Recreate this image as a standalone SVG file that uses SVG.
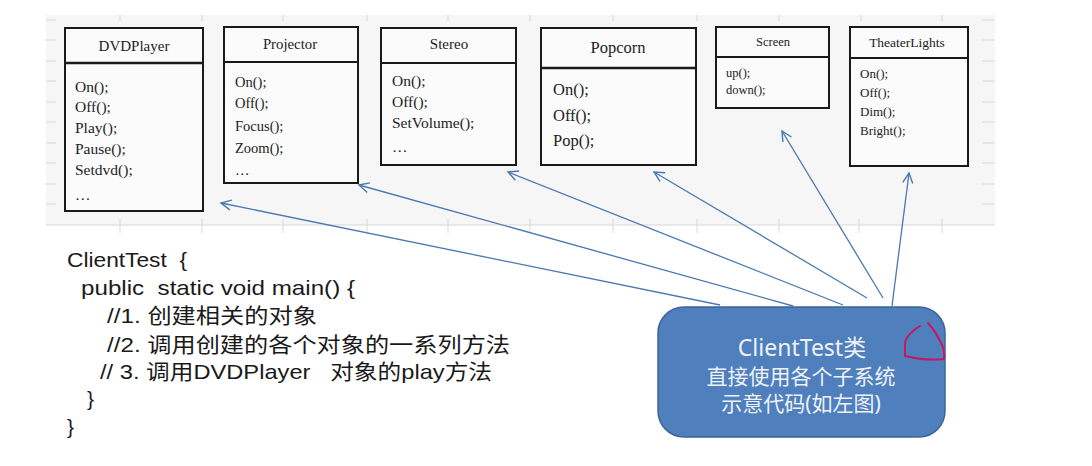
<svg xmlns="http://www.w3.org/2000/svg" width="1092" height="466" viewBox="0 0 1092 466">
<style>
.cls{fill:#fbfbfb;stroke:#1a1a1a;stroke-width:2}
.ttl{font-family:"Liberation Serif","Noto Sans CJK SC",serif;fill:#222;text-anchor:middle}
.mth{font-family:"Liberation Serif","Noto Sans CJK SC",serif;fill:#222}
.code{font-family:"Liberation Sans","Noto Sans CJK SC",sans-serif;font-size:21px;fill:#1a1a1a;white-space:pre}
.btxt{font-family:"Noto Sans","Noto Sans CJK SC",sans-serif;fill:#eef2f8;text-anchor:middle}
.tick{stroke:#d8d8d8;stroke-width:1}
.conn{fill:none;stroke:#4a78b0;stroke-width:1.3;marker-end:url(#arr)}
</style>
<defs>
<marker id="arr" markerUnits="userSpaceOnUse" markerWidth="14" markerHeight="14" viewBox="-12 -7 14 14" refX="0" refY="0" orient="auto">
<path d="M-10,-5 L0,0 L-10,5" fill="none" stroke="#4a78b0" stroke-width="1.4"/>
</marker>
</defs>
<rect width="1092" height="466" fill="#ffffff"/>
<g id="background">
<rect x="46" y="15" width="949" height="210" fill="#f6f6f6"/>
<line class="tick" x1="46" y1="225" x2="995" y2="225"/>
<g class="tick">
<line x1="46" y1="20" x2="56" y2="20"/><line x1="46" y1="40" x2="56" y2="40"/><line x1="46" y1="61" x2="56" y2="61"/><line x1="46" y1="81" x2="56" y2="81"/><line x1="46" y1="102" x2="56" y2="102"/><line x1="46" y1="122" x2="56" y2="122"/><line x1="46" y1="143" x2="56" y2="143"/><line x1="46" y1="163" x2="56" y2="163"/><line x1="46" y1="184" x2="56" y2="184"/><line x1="46" y1="204" x2="56" y2="204"/>
<line x1="982" y1="20" x2="995" y2="20"/><line x1="982" y1="40" x2="995" y2="40"/><line x1="982" y1="61" x2="995" y2="61"/><line x1="982" y1="81" x2="995" y2="81"/><line x1="982" y1="102" x2="995" y2="102"/><line x1="982" y1="122" x2="995" y2="122"/><line x1="982" y1="143" x2="995" y2="143"/><line x1="982" y1="163" x2="995" y2="163"/><line x1="982" y1="184" x2="995" y2="184"/><line x1="982" y1="204" x2="995" y2="204"/>
<line x1="120" y1="15" x2="120" y2="21"/><line x1="202" y1="15" x2="202" y2="21"/><line x1="283" y1="15" x2="283" y2="21"/><line x1="367" y1="15" x2="367" y2="21"/><line x1="448" y1="15" x2="448" y2="21"/><line x1="530" y1="15" x2="530" y2="21"/><line x1="613" y1="15" x2="613" y2="21"/><line x1="697" y1="15" x2="697" y2="21"/><line x1="779" y1="15" x2="779" y2="21"/><line x1="861" y1="15" x2="861" y2="21"/><line x1="942" y1="15" x2="942" y2="21"/>
<line x1="120" y1="219" x2="120" y2="233"/><line x1="202" y1="219" x2="202" y2="233"/><line x1="283" y1="219" x2="283" y2="233"/><line x1="367" y1="219" x2="367" y2="233"/><line x1="448" y1="219" x2="448" y2="233"/><line x1="530" y1="219" x2="530" y2="233"/><line x1="613" y1="219" x2="613" y2="233"/><line x1="697" y1="219" x2="697" y2="233"/><line x1="779" y1="219" x2="779" y2="233"/><line x1="859" y1="219" x2="859" y2="233"/><line x1="942" y1="219" x2="942" y2="233"/>
</g>
</g>
<g id="DVDPlayer">
<rect class="cls" x="65" y="28" width="138" height="183" stroke-width="2.5"/>
<line x1="65" y1="63" x2="203" y2="63" stroke="#1a1a1a" stroke-width="2.5"/>
<text class="ttl" x="134" y="51" font-size="15">DVDPlayer</text>
<g class="mth" font-size="15.5">
<text x="75" y="92">On();</text><text x="75" y="112">Off();</text><text x="75" y="133">Play();</text><text x="75" y="154">Pause();</text><text x="75" y="175">Setdvd();</text><text x="75" y="200">…</text>
</g>
</g>
<g id="Projector">
<rect class="cls" x="224" y="27" width="134" height="156"/>
<line x1="224" y1="62" x2="358" y2="62" stroke="#1a1a1a" stroke-width="2"/>
<text class="ttl" x="290" y="49" font-size="14.8">Projector</text>
<g class="mth" font-size="14.5">
<text x="235" y="87">On();</text><text x="235" y="108">Off();</text><text x="235" y="131">Focus();</text><text x="235" y="153">Zoom();</text><text x="235" y="175">…</text>
</g>
</g>
<g id="Stereo">
<rect class="cls" x="381" y="28" width="135" height="137"/>
<line x1="381" y1="63" x2="516" y2="63" stroke="#1a1a1a" stroke-width="2"/>
<text class="ttl" x="449" y="49" font-size="15">Stereo</text>
<g class="mth" font-size="15.5">
<text x="392" y="86">On();</text><text x="392" y="107">Off();</text><text x="392" y="128">SetVolume();</text><text x="392" y="152">…</text>
</g>
</g>
<g id="Popcorn">
<rect class="cls" x="541" y="28" width="155" height="137"/>
<line x1="541" y1="68" x2="696" y2="68" stroke="#1a1a1a" stroke-width="2.5"/>
<text class="ttl" x="618" y="53" font-size="16.5">Popcorn</text>
<g class="mth" font-size="16.5">
<text x="553" y="95">On();</text><text x="553" y="121">Off();</text><text x="553" y="146">Pop();</text>
</g>
</g>
<g id="Screen">
<rect class="cls" x="716" y="27" width="113" height="81"/>
<line x1="716" y1="57" x2="829" y2="57" stroke="#1a1a1a" stroke-width="2"/>
<text class="ttl" x="773" y="46" font-size="12.5">Screen</text>
<g class="mth" font-size="12.5">
<text x="726" y="77">up();</text><text x="726" y="94">down();</text>
</g>
</g>
<g id="TheaterLights">
<rect class="cls" x="850" y="27" width="118" height="139"/>
<line x1="850" y1="58" x2="968" y2="58" stroke="#1a1a1a" stroke-width="2"/>
<text class="ttl" x="907" y="47" font-size="13.5">TheaterLights</text>
<g class="mth" font-size="13">
<text x="860" y="78">On();</text><text x="860" y="97">Off();</text><text x="860" y="116">Dim();</text><text x="860" y="135">Bright();</text>
</g>
</g>
<g id="connectors">
<path class="conn" d="M720,305 L221,203"/>
<path class="conn" d="M793,306 L359,185"/>
<path class="conn" d="M843,305 L508,172"/>
<path class="conn" d="M867,298 L654,172"/>
<path class="conn" d="M883,298 L782,131"/>
<path class="conn" d="M892,306 L909,173"/>
</g>
<g id="code">
<text class="code" x="67" y="267" textLength="120" lengthAdjust="spacingAndGlyphs">ClientTest  {</text>
<text class="code" x="81" y="295" textLength="274" lengthAdjust="spacingAndGlyphs">public  static void main() {</text>
<text class="code" x="107" y="323" textLength="210" lengthAdjust="spacingAndGlyphs">//1. 创建相关的对象</text>
<text class="code" x="107" y="352" textLength="403" lengthAdjust="spacingAndGlyphs">//2. 调用创建的各个对象的一系列方法</text>
<text class="code" x="100" y="379" textLength="392" lengthAdjust="spacingAndGlyphs">// 3. 调用DVDPlayer   对象的play方法</text>
<text class="code" x="87" y="406">}</text>
<text class="code" x="67" y="434">}</text>
</g>
<g id="ClientTest">
<rect x="658" y="307" width="287" height="130" rx="26" ry="26" fill="#4f7fbd" stroke="#3c6698" stroke-width="1.5"/>
<text class="btxt" x="802" y="356" font-size="23">ClientTest类</text>
<text class="btxt" x="801" y="384" font-size="21">直接使用各个子系统</text>
<text class="btxt" x="801" y="411" font-size="21">示意代码(如左图)</text>
<path d="M920,326 Q908,333 905,342 L905,356 Q925,361 944,359 Q945,350 941,343 Q936,332 928,323" fill="none" stroke="#c41860" stroke-width="2" stroke-linejoin="round" stroke-linecap="round"/>
</g>
</svg>
